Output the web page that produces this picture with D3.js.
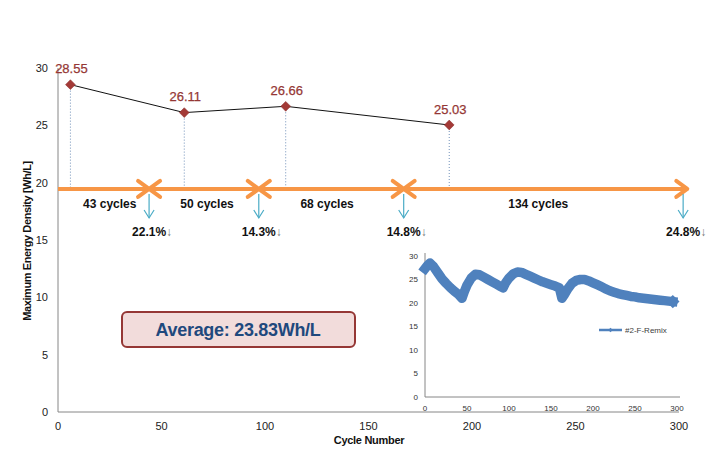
<!DOCTYPE html>
<html>
<head>
<meta charset="utf-8">
<script src="https://cdn.jsdelivr.net/npm/d3@7"></script>
<style>
  html, body { margin: 0; padding: 0; background: #fff; }
  svg { display: block; font-family: "Liberation Sans", Arial, sans-serif; }
</style>
</head>
<body>
<svg id="chart" width="720" height="472"></svg>
<script>
// ---------- data ----------
const peakCycles = [6, 61, 110, 189];
const peakValues = [28.55, 26.11, 26.66, 25.03];
const peakLabels = ["28.55", "26.11", "26.66", "25.03"];

const segmentLine = 19.45;              // level of orange arrow line
const crossCycles = [44, 97, 167];      // X marks on the orange line
const arrowEndCycle = 304;
const segmentLabels = ["43 cycles", "50 cycles", "68 cycles", "134 cycles"];
const segmentLabelCycles = [25, 72, 130, 232];
const dropCycles = [44, 97, 167, 302];
const dropLabels = ["22.1%", "14.3%", "14.8%", "24.8%"];

const averageLabel = "Average: 23.83Wh/L";

const xTicks = [0, 50, 100, 150, 200, 250, 300];
const yTicks = [0, 5, 10, 15, 20, 25, 30];

// inset series "#2-F-Remix"
const insetCycles = [0, 3, 6, 10, 15, 20, 25, 30, 35, 40, 44, 47, 50, 55, 60, 65, 70, 75, 80, 85, 90, 93, 96, 100, 105, 110, 115, 120, 125, 130, 135, 140, 145, 150, 155, 160, 163, 166, 170, 175, 180, 185, 190, 195, 200, 205, 210, 215, 220, 225, 230, 235, 240, 245, 250, 255, 260, 265, 270, 275, 280, 285, 290, 295];
const insetValues = [27.3, 28.0, 28.5, 27.8, 26.5, 25.2, 24.2, 23.3, 22.5, 21.8, 21.0, 22.5, 23.8, 25.3, 26.1, 26.0, 25.5, 25.0, 24.5, 24.0, 23.5, 23.2, 24.3, 25.3, 26.2, 26.6, 26.5, 26.1, 25.7, 25.3, 24.9, 24.5, 24.2, 23.9, 23.6, 23.2, 21.0, 21.8, 23.0, 24.2, 24.8, 25.0, 25.0, 24.7, 24.3, 23.9, 23.5, 23.0, 22.6, 22.3, 22.0, 21.8, 21.6, 21.4, 21.3, 21.1, 21.0, 20.9, 20.8, 20.7, 20.6, 20.5, 20.4, 20.3];
const insetSeriesName = "#2-F-Remix";

// ---------- main chart ----------
const svg = d3.select("#chart");
const x = d3.scaleLinear().domain([0, 300]).range([58, 679]);
const y = d3.scaleLinear().domain([0, 30]).range([412, 68]);
const axisColor = "#868686";

// axes lines
svg.append("line").attr("x1", x(0)).attr("x2", x(0)).attr("y1", y(30)).attr("y2", y(0))
  .attr("stroke", axisColor).attr("stroke-width", 1);
svg.append("line").attr("x1", x(0)).attr("x2", x(300)).attr("y1", y(0)).attr("y2", y(0))
  .attr("stroke", axisColor).attr("stroke-width", 1);

// tick labels
svg.append("g").selectAll("text").data(yTicks).join("text")
  .attr("x", x(0) - 10).attr("y", d => y(d)).attr("dy", "0.35em")
  .attr("text-anchor", "end").attr("font-size", 11).attr("fill", "#222")
  .text(d => d);
svg.append("g").selectAll("text").data(xTicks).join("text")
  .attr("x", d => x(d)).attr("y", y(0) + 14).attr("dy", "0.35em")
  .attr("text-anchor", "middle").attr("font-size", 11).attr("fill", "#222")
  .text(d => d);

// axis titles
svg.append("text").attr("transform", "translate(31,241) rotate(-90)")
  .attr("text-anchor", "middle").attr("font-size", 11).attr("font-weight", "bold")
  .attr("letter-spacing", "-0.4").attr("fill", "#111")
  .text("Maximum Energy Density [Wh/L]");
svg.append("text").attr("x", 369).attr("y", 440).attr("dy", "0.35em")
  .attr("text-anchor", "middle").attr("font-size", 11).attr("font-weight", "bold")
  .attr("letter-spacing", "-0.3").attr("fill", "#111")
  .text("Cycle Number");

// dotted verticals
svg.append("g").selectAll("line").data(peakCycles).join("line")
  .attr("x1", d => x(d)).attr("x2", d => x(d))
  .attr("y1", (d, i) => y(peakValues[i])).attr("y2", y(segmentLine))
  .attr("stroke", "#6f8fb8").attr("stroke-width", 1).attr("stroke-dasharray", "1,2");

// orange arrow line
const oy = y(segmentLine);
const orange = "#f79646";
svg.append("line").attr("x1", x(0)).attr("x2", x(arrowEndCycle)).attr("y1", oy).attr("y2", oy)
  .attr("stroke", orange).attr("stroke-width", 4);
const crosses = svg.append("g");
crossCycles.forEach(c => {
  const cx = x(c);
  crosses.append("path")
    .attr("d", `M${cx - 11},${oy - 8}L${cx + 11},${oy + 8}M${cx - 11},${oy + 8}L${cx + 11},${oy - 8}`)
    .attr("stroke", orange).attr("stroke-width", 4).attr("fill", "none").attr("stroke-linecap", "round");
});
{
  const ax = x(arrowEndCycle);
  svg.append("path").attr("d", `M${ax - 11},${oy - 8}L${ax},${oy}L${ax - 11},${oy + 8}`)
    .attr("stroke", orange).attr("stroke-width", 4).attr("fill", "none")
    .attr("stroke-linecap", "round").attr("stroke-linejoin", "round");
}

// segment labels
svg.append("g").selectAll("text").data(segmentLabels).join("text")
  .attr("x", (d, i) => x(segmentLabelCycles[i])).attr("y", oy + 15).attr("dy", "0.35em")
  .attr("text-anchor", "middle").attr("font-size", 12).attr("font-weight", "bold").attr("fill", "#111")
  .text(d => d);

// teal arrows + drop labels
const teal = "#4bacc6";
dropCycles.forEach((c, i) => {
  const ax = x(c);
  svg.append("line").attr("x1", ax).attr("x2", ax).attr("y1", oy + 5).attr("y2", oy + 29)
    .attr("stroke", teal).attr("stroke-width", 1.2);
  svg.append("path").attr("d", `M${ax - 5},${oy + 21}L${ax},${oy + 29}L${ax + 5},${oy + 21}`)
    .attr("stroke", teal).attr("stroke-width", 1.2).attr("fill", "none");
  const t = svg.append("text").attr("x", ax + 3).attr("y", oy + 43).attr("dy", "0.35em")
    .attr("text-anchor", "middle").attr("font-size", 12).attr("font-weight", "bold").attr("fill", "#111");
  t.append("tspan").text(dropLabels[i]);
  t.append("tspan").attr("fill", "#777").attr("font-weight", "normal").text("↓");
});

// black connecting line
const lineGen = d3.line().x((d, i) => x(peakCycles[i])).y(d => y(d));
svg.append("path").datum(peakValues).attr("d", lineGen)
  .attr("fill", "none").attr("stroke", "#111").attr("stroke-width", 1);

// diamonds
svg.append("g").selectAll("path").data(peakValues).join("path")
  .attr("d", d3.symbol().type(d3.symbolSquare).size(48))
  .attr("transform", (d, i) => `translate(${x(peakCycles[i])},${y(d)}) rotate(45)`)
  .attr("fill", "#a33a37").attr("stroke", "#8b2e2b").attr("stroke-width", 0.5);

// value labels
svg.append("g").selectAll("text").data(peakLabels).join("text")
  .attr("x", (d, i) => x(peakCycles[i]) + 1).attr("y", (d, i) => y(peakValues[i]) - 16).attr("dy", "0.35em")
  .attr("text-anchor", "middle").attr("font-size", 13).attr("fill", "#953735")
  .attr("stroke", "#953735").attr("stroke-width", 0.25)
  .text(d => d);

// average box
svg.append("rect").attr("x", 122).attr("y", 312).attr("width", 233).attr("height", 35)
  .attr("rx", 5).attr("fill", "#f2dcdb").attr("stroke", "#953735").attr("stroke-width", 2);
svg.append("text").attr("x", 238).attr("y", 330).attr("dy", "0.35em")
  .attr("text-anchor", "middle").attr("font-size", 18).attr("font-weight", "bold")
  .attr("letter-spacing", "-0.3").attr("fill", "#1f497d")
  .text(averageLabel);

// ---------- inset chart ----------
const ix = d3.scaleLinear().domain([0, 300]).range([425, 677]);
const iy = d3.scaleLinear().domain([0, 30]).range([397, 256]);
const inset = svg.append("g");
inset.append("line").attr("x1", ix(0)).attr("x2", ix(0)).attr("y1", iy(30) - 3).attr("y2", iy(0))
  .attr("stroke", axisColor).attr("stroke-width", 1);
inset.append("line").attr("x1", ix(0)).attr("x2", ix(300) + 3).attr("y1", iy(0)).attr("y2", iy(0))
  .attr("stroke", axisColor).attr("stroke-width", 1);
inset.append("g").selectAll("text").data(yTicks).join("text")
  .attr("x", ix(0) - 7).attr("y", d => iy(d)).attr("dy", "0.35em")
  .attr("text-anchor", "end").attr("font-size", 8).attr("fill", "#333")
  .text(d => d);
inset.append("g").selectAll("text").data(xTicks).join("text")
  .attr("x", d => ix(d)).attr("y", iy(0) + 11).attr("dy", "0.35em")
  .attr("text-anchor", "middle").attr("font-size", 8).attr("fill", "#333")
  .text(d => d);

const insetLine = d3.line().x((d, i) => ix(insetCycles[i])).y(d => iy(d));
inset.append("path").datum(insetValues).attr("d", insetLine)
  .attr("fill", "none").attr("stroke", "#4f81bd").attr("stroke-width", 9.5)
  .attr("stroke-linejoin", "round").attr("stroke-linecap", "square");
inset.append("path")
  .attr("d", d3.symbol().type(d3.symbolSquare).size(90))
  .attr("transform", `translate(${ix(insetCycles[insetCycles.length - 1])},${iy(insetValues[insetValues.length - 1])}) rotate(45)`)
  .attr("fill", "#4f81bd");

// inset legend
inset.append("line").attr("x1", 599).attr("x2", 622).attr("y1", 330).attr("y2", 330)
  .attr("stroke", "#4f81bd").attr("stroke-width", 2.5);
inset.append("path").attr("d", d3.symbol().type(d3.symbolSquare).size(10))
  .attr("transform", "translate(610.5,330) rotate(45)").attr("fill", "#4f81bd");
inset.append("text").attr("x", 625).attr("y", 330).attr("dy", "0.35em")
  .attr("font-size", 8).attr("fill", "#404040").text(insetSeriesName);
</script>
</body>
</html>
